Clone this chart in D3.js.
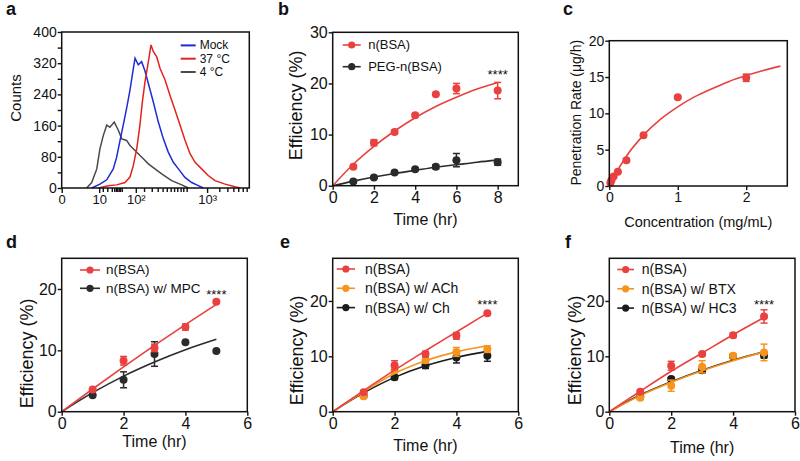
<!DOCTYPE html>
<html>
<head>
<meta charset="utf-8">
<script src="https://cdn.jsdelivr.net/npm/d3@7"></script>
<style>
  body { margin: 0; background: #fff; }
  svg text { font-family: "Liberation Sans", Arial, sans-serif; fill: #111; }
</style>
</head>
<body>
<svg id="fig" width="800" height="461"></svg>
<script>
// ---- panel a : flow histograms (x in display channels 0-1000) ----
const mockCh = [160,204,240,275,293,311,328,346,364,382,391,408,426,444,462,488,515,542,568,595,622,657,693,728,755];
const mockCounts = [0,10,21,49,79,122,161,204,251,307,333,316,324,300,268,221,169,126,92,66,49,27,14,6,0];
const warmCh = [195,248,293,337,364,382,400,417,430,444,462,476,488,506,524,551,577,604,631,657,684,711,746,781,817,871,924,950];
const warmCounts = [0,6,8,14,28,58,101,161,221,272,324,367,350,337,307,277,238,200,161,123,88,66,49,32,19,10,3,0];
const coldCh = [133,160,187,204,222,240,257,280,302,320,346,364,391,408,435,462,497,533,586,640,675];
const coldCounts = [0,14,49,101,135,161,156,169,148,126,122,109,96,88,75,62,49,36,19,8,0];
const histTickCh = [0, 200, 395, 775];
const histTickLabels = ["0", "10", "10²", "10³"];
const histMinorCh = [219,243,267,280,289,296,304,311,320,439,480,512,538,560,581,599,616,634,648,666,840,883,915,941,965,986];
const countTicks = [0,40,80,120,160,200,240,280,320,360,400];
const histLabels = ["Mock", "37 °C", "4 °C"];

// ---- panel b ----
const timeB = [1,2,3,4,5,6,8];
const bsaB = [3.7,8.4,10.5,13.8,17.9,19.0,18.6];
const bsaBErr = [0.3,0.6,0.3,0.3,0.2,1.0,1.6];
const pegB = [0.8,1.6,2.6,3.2,3.7,5.0,4.6];
const pegBErr = [0.2,0.2,0.2,0.2,0.4,1.3,0.6];
const fitTimeB = [0,1,2,3,4,5,6,7,8];
const bsaBFit = [0,4.2,7.7,10.7,13.3,15.5,17.3,18.9,20.2];
const pegBFit = [0,0.9,1.7,2.4,3.0,3.6,4.1,4.6,5.0];

// ---- panel c ----
const concC = [0.016,0.031,0.0625,0.125,0.25,0.5,1,2];
const rateC = [0.45,0.8,1.3,1.95,3.55,7.0,12.2,14.9];
const rateCErr = [0.1,0.1,0.1,0.1,0.2,0.2,0.2,0.5];
const concFit = [0,0.1,0.25,0.5,0.75,1,1.25,1.5,1.75,2,2.25,2.5];
const rateFit = [0,1.8,4.1,7.0,9.2,10.9,12.3,13.4,14.4,15.2,15.9,16.5];

// ---- panels d, e, f ----
const timeDEF = [1,2,3,4,5];
const fitTimeDEF = [0,1,2,3,4,5];

const bsaD = [3.6,8.3,10.4,13.8,17.9];
const bsaDErr = [0.2,0.7,0.6,0.5,0.2];
const mpcD = [2.7,5.2,9.4,11.3,9.9];
const mpcDErr = [0.2,1.3,2.0,0.2,0.2];
const bsaDFit = [0,3.7,7.3,10.8,14.2,17.5];
const mpcDFit = [0,3.1,5.8,8.1,10.1,11.8];

const bsaE = [3.5,8.4,10.4,13.7,17.8];
const bsaEErr = [0.3,0.8,0.5,0.6,0.2];
const achE = [2.8,7.5,9.3,10.8,11.3];
const achEErr = [0.4,0.5,0.5,0.8,0.6];
const chE = [2.9,6.2,8.4,9.8,10.1];
const chEErr = [0.3,0.4,0.6,1.0,1.0];
const bsaEFit = [0,3.8,7.5,11.0,14.4,17.8];
const achEFit = [0,3.6,6.9,9.2,10.8,11.9];
const chEFit = [0,3.4,6.2,8.3,9.8,10.9];

const bsaF = [3.6,8.3,10.4,13.8,17.2];
const bsaFErr = [0.3,0.8,0.3,0.4,1.2];
const btxF = [2.5,4.7,8.1,10.1,10.7];
const btxFErr = [0.3,1.0,1.1,0.3,1.5];
const hc3F = [2.7,5.9,7.5,10.0,10.2];
const hc3FErr = [0.2,0.3,0.5,0.3,0.5];
const bsaFFit = [0,3.7,7.3,10.6,13.9,17.0];
const btxFFit = [0,2.9,5.3,7.4,9.2,10.8];
const hc3FFit = [0,3.0,5.4,7.5,9.3,10.8];

const RED = '#e9413f', ORANGE = '#f7941d', BLACK = '#1c1c1c';

const svg = d3.select('#fig');

function styleAxis(sel, fontSize) {
  sel.select('.domain').remove();
  sel.selectAll('.tick line').attr('stroke', '#111').attr('stroke-width', 1.4);
  sel.selectAll('.tick text').attr('font-size', fontSize).attr('fill', '#111');
}

function frame(g, w, h) {
  g.append('rect').attr('width', w).attr('height', h)
    .attr('fill', 'none').attr('stroke', '#111').attr('stroke-width', 1.5);
}

function letter(x, y, t) {
  svg.append('text').attr('x', x).attr('y', y).attr('font-size', 18)
    .attr('font-weight', 'bold').text(t);
}

function yTitle(g, x, y, size, t) {
  g.append('text').attr('transform', `translate(${x},${y}) rotate(-90)`)
    .attr('text-anchor', 'middle').attr('font-size', size).text(t);
}

// ---------------- panel a ----------------
(function () {
  const left = 61.7, top = 32, w = 187.6, h = 156;
  const g = svg.append('g').attr('transform', `translate(${left},${top})`);
  const x = d3.scaleLinear().domain([0, 1000]).range([0, w]);
  const y = d3.scaleLinear().domain([0, 400]).range([h, 0]);

  const line = d3.line().x(d => x(d[0])).y(d => y(d[1]));
  const hists = [
    { ch: coldCh, n: coldCounts, color: '#4a4a4a' },
    { ch: mockCh, n: mockCounts, color: '#1f2bd6' },
    { ch: warmCh, n: warmCounts, color: '#e3231f' }
  ];
  hists.forEach(s => {
    g.append('path').datum(d3.zip(s.ch, s.n)).attr('d', line)
      .attr('fill', 'none').attr('stroke', s.color).attr('stroke-width', 1.5);
  });

  g.append('g').attr('transform', `translate(0,${h})`)
    .call(d3.axisBottom(x).tickValues(histMinorCh).tickSize(4).tickFormat(''))
    .call(s => styleAxis(s, 13));
  g.append('g').attr('transform', `translate(0,${h})`)
    .call(d3.axisBottom(x).tickValues(histTickCh).tickSize(5).tickPadding(2)
      .tickFormat((d, i) => histTickLabels[i]))
    .call(s => styleAxis(s, 13));
  g.append('g')
    .call(d3.axisLeft(y).tickValues(countTicks).tickSize(4).tickPadding(1)
      .tickFormat(d => d % 80 === 0 ? d : ''))
    .call(s => styleAxis(s, 14));

  frame(g, w, h);
  yTitle(g, -41, 66, 15, 'Counts');

  const leg = g.append('g').attr('transform', 'translate(119,0)');
  const legColors = [hists[1].color, hists[2].color, hists[0].color];
  histLabels.forEach((t, i) => {
    const yy = 13.4 + i * 13.3;
    leg.append('line').attr('x1', 0).attr('x2', 15).attr('y1', yy).attr('y2', yy)
      .attr('stroke', legColors[i]).attr('stroke-width', 2);
    leg.append('text').attr('x', 19).attr('y', yy).attr('dominant-baseline', 'central')
      .attr('font-size', 12).text(t);
  });
  letter(6, 15, 'a');
})();

// ---------------- generic time panel ----------------
function timePanel(p) {
  const g = svg.append('g').attr('transform', `translate(${p.left},${p.top})`);
  const x = d3.scaleLinear().domain([0, p.xMax]).range([0, p.width]);
  const y = d3.scaleLinear().domain([0, p.yMax]).range([p.height, 0]);
  const fmt = d3.format('~g');

  g.append('g').attr('transform', `translate(0,${p.height})`)
    .call(d3.axisBottom(x).tickValues(p.xTicks).tickFormat(fmt).tickSize(4).tickPadding(2))
    .call(s => styleAxis(s, p.tickFont));
  g.append('g')
    .call(d3.axisLeft(y).tickValues(p.yTicks).tickFormat(fmt).tickSize(4).tickPadding(1))
    .call(s => styleAxis(s, p.tickFont));

  const line = d3.line().x(d => x(d[0])).y(d => y(d[1])).curve(d3.curveMonotoneX);
  p.series.slice().reverse().forEach(s => {
    g.append('path').datum(d3.zip(s.fitX, s.fitY)).attr('d', line)
      .attr('fill', 'none').attr('stroke', s.color).attr('stroke-width', 1.6);
    const pts = d3.zip(s.x, s.y, s.err);
    const eb = g.append('g').attr('stroke', s.color).attr('stroke-width', 1.5);
    pts.forEach(d => {
      if (!d[2]) return;
      const cx = x(d[0]), y0 = y(d[1] - d[2]), y1 = y(d[1] + d[2]);
      eb.append('line').attr('x1', cx).attr('x2', cx).attr('y1', y0).attr('y2', y1);
      eb.append('line').attr('x1', cx - 3.5).attr('x2', cx + 3.5).attr('y1', y0).attr('y2', y0);
      eb.append('line').attr('x1', cx - 3.5).attr('x2', cx + 3.5).attr('y1', y1).attr('y2', y1);
    });
    g.append('g').selectAll('circle').data(pts).join('circle')
      .attr('cx', d => x(d[0])).attr('cy', d => y(d[1])).attr('r', 4)
      .attr('fill', s.color);
  });

  if (p.stars) {
    g.append('text').attr('x', x(p.stars[0])).attr('y', y(p.stars[1]))
      .attr('text-anchor', 'middle').attr('font-size', 13).text('****');
  }

  if (p.legend) {
    const L = p.legend;
    p.series.forEach((s, i) => {
      const yy = L.y + i * L.dy;
      g.append('line').attr('x1', L.x0).attr('x2', L.x1).attr('y1', yy).attr('y2', yy)
        .attr('stroke', s.color).attr('stroke-width', 1.6);
      g.append('circle').attr('cx', (L.x0 + L.x1) / 2).attr('cy', yy).attr('r', 3.6)
        .attr('fill', s.color);
      g.append('text').attr('x', L.tx).attr('y', yy).attr('dominant-baseline', 'central')
        .attr('font-size', L.font).text(s.label);
    });
  }

  frame(g, p.width, p.height);
  yTitle(g, p.yTitle[0], p.yTitle[1], p.yTitle[2], p.yTitle[3]);
  g.append('text').attr('x', p.width / 2).attr('y', p.xTitle[0])
    .attr('text-anchor', 'middle').attr('font-size', p.xTitle[1]).text(p.xTitle[2]);
  return g;
}

// ---------------- panel b ----------------
timePanel({
  left: 332.7, top: 32.3, width: 185.6, height: 153.4, xMax: 9, yMax: 30,
  xTicks: [0,2,4,6,8], yTicks: [0,10,20,30], tickFont: 16,
  series: [
    { x: timeB, y: bsaB, err: bsaBErr, fitX: fitTimeB, fitY: bsaBFit, color: RED, label: 'n(BSA)' },
    { x: timeB, y: pegB, err: pegBErr, fitX: fitTimeB, fitY: pegBFit, color: '#2a2a2a', label: 'PEG-n(BSA)' }
  ],
  stars: [8, 20.9],
  legend: { x0: 10, x1: 28, y: 12.7, dy: 21.7, tx: 35.5, font: 13 },
  yTitle: [-30.7, 73, 18, 'Efficiency (%)'],
  xTitle: [192.7, 16, 'Time (hr)']
});
letter(278, 15, 'b');

// ---------------- panel c ----------------
timePanel({
  left: 609.3, top: 40.7, width: 178, height: 145.3, xMax: 2.6, yMax: 20,
  xTicks: [0,1,2], yTicks: [0,5,10,15,20], tickFont: 14,
  series: [
    { x: concC, y: rateC, err: rateCErr, fitX: concFit, fitY: rateFit, color: RED, label: '' }
  ],
  yTitle: [-28.6, 72, 14, 'Penetration Rate (μg/h)'],
  xTitle: [186, 14.5, 'Concentration (mg/mL)']
});
letter(563, 15, 'c');

// ---------------- panel d ----------------
timePanel({
  left: 61.7, top: 258.3, width: 185.6, height: 153.4, xMax: 6, yMax: 25,
  xTicks: [0,2,4,6], yTicks: [0,10,20], tickFont: 16,
  series: [
    { x: timeDEF, y: bsaD, err: bsaDErr, fitX: fitTimeDEF, fitY: bsaDFit, color: RED, label: 'n(BSA)' },
    { x: timeDEF, y: mpcD, err: mpcDErr, fitX: fitTimeDEF, fitY: mpcDFit, color: '#2b2b2b', label: 'n(BSA) w/ MPC' }
  ],
  stars: [5, 18.4],
  legend: { x0: 18.3, x1: 38.3, y: 11.7, dy: 18.3, tx: 44.3, font: 13.5 },
  yTitle: [-29, 95, 18, 'Efficiency (%)'],
  xTitle: [189, 16, 'Time (hr)']
});
letter(6, 248, 'd');

// ---------------- panel e ----------------
timePanel({
  left: 332.7, top: 258.3, width: 185.6, height: 153.4, xMax: 6, yMax: 27.7,
  xTicks: [0,2,4,6], yTicks: [0,10,20], tickFont: 16,
  series: [
    { x: timeDEF, y: bsaE, err: bsaEErr, fitX: fitTimeDEF, fitY: bsaEFit, color: RED, label: 'n(BSA)' },
    { x: timeDEF, y: achE, err: achEErr, fitX: fitTimeDEF, fitY: achEFit, color: ORANGE, label: 'n(BSA) w/ ACh' },
    { x: timeDEF, y: chE, err: chEErr, fitX: fitTimeDEF, fitY: chEFit, color: BLACK, label: 'n(BSA) w/ Ch' }
  ],
  stars: [5, 18.6],
  legend: { x0: 4, x1: 22.3, y: 10.7, dy: 19.3, tx: 32.3, font: 14 },
  yTitle: [-30, 92, 18, 'Efficiency (%)'],
  xTitle: [192.7, 16, 'Time (hr)']
});
letter(280, 248, 'e');

// ---------------- panel f ----------------
timePanel({
  left: 609.3, top: 258.3, width: 185.7, height: 153.4, xMax: 6, yMax: 27.7,
  xTicks: [0,2,4,6], yTicks: [0,10,20], tickFont: 16,
  series: [
    { x: timeDEF, y: bsaF, err: bsaFErr, fitX: fitTimeDEF, fitY: bsaFFit, color: RED, label: 'n(BSA)' },
    { x: timeDEF, y: btxF, err: btxFErr, fitX: fitTimeDEF, fitY: btxFFit, color: ORANGE, label: 'n(BSA) w/ BTX' },
    { x: timeDEF, y: hc3F, err: hc3FErr, fitX: fitTimeDEF, fitY: hc3FFit, color: BLACK, label: 'n(BSA) w/ HC3' }
  ],
  stars: [5, 18.6],
  legend: { x0: 8, x1: 24.7, y: 11.2, dy: 19.3, tx: 32.4, font: 14 },
  yTitle: [-28.6, 92, 18, 'Efficiency (%)'],
  xTitle: [194.4, 16, 'Time (hr)']
});
letter(565, 248, 'f');
</script>
</body>
</html>
